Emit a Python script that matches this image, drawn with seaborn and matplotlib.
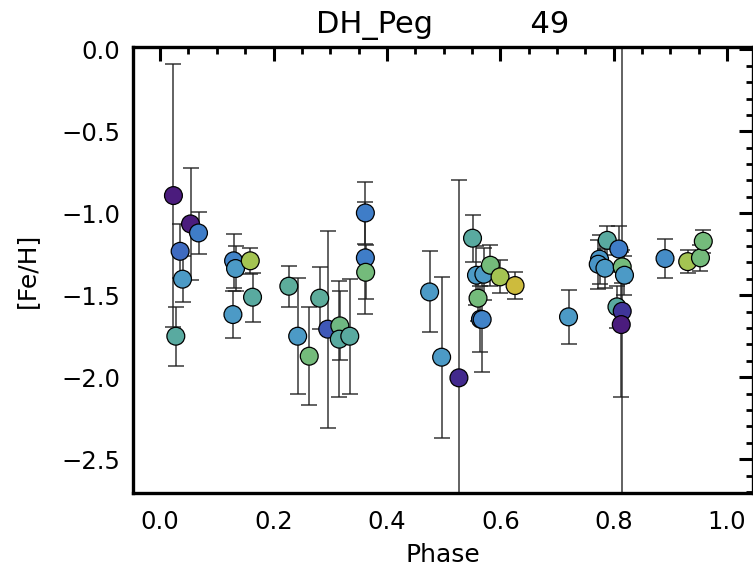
import numpy as np
import pandas as pd
import matplotlib
matplotlib.use("Agg")
import matplotlib.pyplot as plt
from matplotlib.colors import LinearSegmentedColormap
from matplotlib.ticker import MultipleLocator
import seaborn as sns

# ---- data ----
phase = [0.0235, 0.0536, 0.0677, 0.0353, 0.0395, 0.0277,
         0.1296, 0.1330, 0.1284, 0.1590, 0.1630,
         0.2270, 0.2426, 0.2630, 0.2815, 0.2956,
         0.3170, 0.3160, 0.3345, 0.3620, 0.3620, 0.3625,
         0.4753, 0.4965, 0.5270,
         0.5510, 0.5580, 0.5710, 0.5825, 0.5995, 0.6260, 0.5607, 0.5650, 0.5680,
         0.7203, 0.7886, 0.7750, 0.7727, 0.7845, 0.8090, 0.8150, 0.8190,
         0.8057, 0.8150, 0.8133,
         0.8905, 0.9305, 0.9530, 0.9580]
feh = [-0.892, -1.065, -1.120, -1.232, -1.402, -1.750,
       -1.290, -1.337, -1.618, -1.290, -1.512,
       -1.445, -1.750, -1.872, -1.518, -1.707,
       -1.687, -1.768, -1.750, -0.998, -1.272, -1.360,
       -1.480, -1.878, -2.004,
       -1.152, -1.378, -1.372, -1.317, -1.388, -1.441, -1.518, -1.646, -1.648,
       -1.632, -1.165, -1.280, -1.311, -1.335, -1.218, -1.327, -1.378,
       -1.571, -1.598, -1.679,
       -1.276, -1.295, -1.272, -1.171]
feh_err = [0.80, 0.34, 0.126, 0.165, 0.14, 0.18,
           0.163, 0.14, 0.146, 0.08, 0.15,
           0.126, 0.355, 0.30, 0.19, 0.60,
           0.21, 0.355, 0.35, 0.19, 0.34, 0.165,
           0.247, 0.49, 1.21,
           0.143, 0.18, 0.16, 0.125, 0.10, 0.08, 0.14, 0.20, 0.32,
           0.163, 0.09, 0.15, 0.15, 0.12, 0.14, 0.10, 0.12,
           0.13, 3.0, 0.44,
           0.12, 0.07, 0.08, 0.07]
color_val = [0.00, 0.00, 0.30, 0.25, 0.40, 0.50,
             0.32, 0.40, 0.40, 0.80, 0.50,
             0.52, 0.40, 0.65, 0.52, 0.20,
             0.62, 0.50, 0.50, 0.30, 0.30, 0.65,
             0.40, 0.40, 0.08,
             0.50, 0.40, 0.40, 0.65, 0.80, 0.95, 0.65, 0.30, 0.32,
             0.40, 0.50, 0.38, 0.38, 0.40, 0.30, 0.65, 0.40,
             0.50, 0.12, 0.00,
             0.35, 0.80, 0.65, 0.65]

title_star = "DH_Peg"
title_n = "49"
x_ticks = [0.0, 0.2, 0.4, 0.6, 0.8, 1.0]
y_ticks = [0.0, -0.5, -1.0, -1.5, -2.0, -2.5]

df = pd.DataFrame({"phase": phase, "feh": feh, "err": feh_err, "cval": color_val})

cmap = LinearSegmentedColormap.from_list("stars", [
    (0.00, "#4b1c7d"), (0.10, "#3f2d92"), (0.20, "#3f58b8"), (0.30, "#3f7ec8"),
    (0.40, "#4c9ac6"), (0.50, "#59aaa0"), (0.65, "#74bb7b"), (0.80, "#a4c452"),
    (1.00, "#d9b836")])

sns.set_style("white")
plt.rcParams["font.family"] = ["DejaVu Sans"]
plt.rcParams["text.color"] = "black"
plt.rcParams["axes.labelcolor"] = "black"
plt.rcParams["xtick.color"] = "black"
plt.rcParams["ytick.color"] = "black"

fig = plt.figure(figsize=(7.53, 5.74), dpi=100)
ax = fig.add_axes([0.1765, 0.141, 0.823, 0.777])

ax.errorbar(df["phase"], df["feh"], yerr=df["err"], fmt="none",
            ecolor="#1e1e1e", alpha=0.75, elinewidth=1.3, capsize=6, capthick=1.3,
            zorder=2)
sns.scatterplot(data=df, x="phase", y="feh", hue="cval", palette=cmap,
                hue_norm=(0, 1), s=165, edgecolor="black", linewidth=0.9,
                legend=False, ax=ax, zorder=3)

ax.set_xlim(-0.048, 1.045)
ax.set_ylim(-2.707, 0.014)
ax.set_xticks(x_ticks)
ax.set_yticks(y_ticks)
ax.xaxis.set_minor_locator(MultipleLocator(0.05))
ax.yaxis.set_minor_locator(MultipleLocator(0.1))
ax.set_xticklabels([f"{v:.1f}" for v in x_ticks])
ax.set_yticklabels([f"{v:.1f}".replace("-", "\u2212") for v in y_ticks])

ax.tick_params(which="both", direction="in", top=True, right=True,
               colors="black", labelcolor="black")
ax.tick_params(which="major", length=10, width=2.2, labelsize=17.5, pad=12)
ax.tick_params(which="minor", length=5, width=2.0)
ax.tick_params(axis="y", which="major", pad=9)
for s in ax.spines.values():
    s.set_linewidth(2.4)
    s.set_color("black")

ax.set_xlabel("Phase", fontsize=18, color="black")
ax.set_ylabel("[Fe/H]", fontsize=18, color="black")
ax.xaxis.set_label_coords(0.5, -0.112)
ax.yaxis.set_label_coords(-0.152, 0.5)
ax.set_title(title_star + " " * 10 + title_n, fontsize=22, pad=10, color="black")

fig.savefig("out.png", dpi=100)
